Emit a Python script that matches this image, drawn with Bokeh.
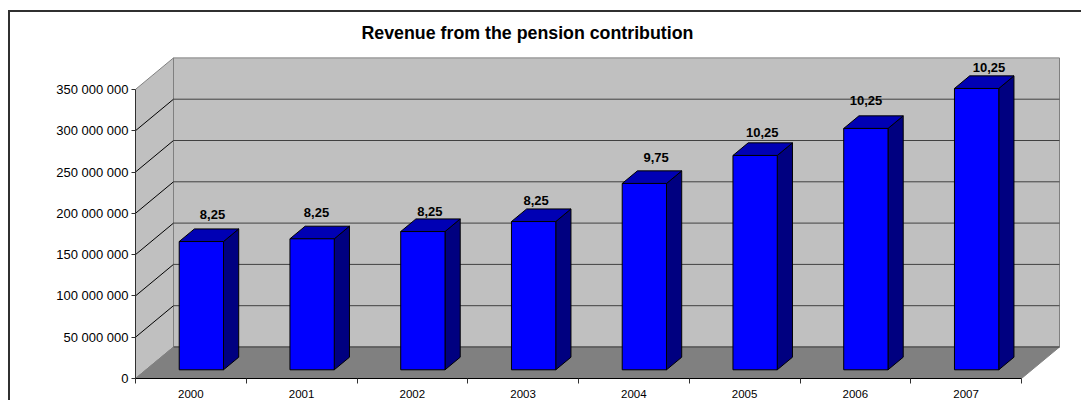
from bokeh.core.properties import value
from bokeh.embed import file_html
from bokeh.models import ColumnDataSource, FixedTicker, InlineStyleSheet, Range1d, Title
from bokeh.plotting import figure
from bokeh.resources import INLINE

# Chart data
years = ["2000", "2001", "2002", "2003", "2004", "2005", "2006", "2007"]
revenue = [155.3e6, 158.6e6, 167.4e6, 179.5e6, 225.6e6, 259.5e6, 292.2e6, 340.6e6]
rates = ["8,25", "8,25", "8,25", "8,25", "9,75", "10,25", "10,25", "10,25"]
y_ticks = [0, 50e6, 100e6, 150e6, 200e6, 250e6, 300e6, 350e6]
y_tick_labels = ["0", "50 000 000", "100 000 000", "150 000 000", "200 000 000",
                 "250 000 000", "300 000 000", "350 000 000"]

# Nudges of the rate labels, in pixels from the centre of each bar's front top edge
label_dx = [11.1, 4.4, 7.0, 2.5, 11.8, 7.1, 0.2, 12.4]
label_dy = [-27.0, -26.0, -19.7, -20.7, -25.7, -22.7, -28.0, -21.0]

# Pixel layout
FRAME_LEFT, FRAME_RIGHT, FRAME_TOP, FRAME_BOTTOM = 135, 1081, 48, 378
PX_PER_CAT = 110.75
PX_PER_UNIT = 41.3 / 50e6
DEPTH_X = 38 / PX_PER_CAT          # shift of the back wall in category units
DEPTH_Y = 31.5 / PX_PER_UNIT       # shift of the back wall in value units
BAR_WIDTH = 0.40
BAR_NEAR, BAR_FAR = 0.276, 0.676   # where the bars start and end, front to back

# Chart area border: only its left and top sides fall inside the window
border_css = InlineStyleSheet(css="""
:host { position: relative; }
:host::after {
    content: ""; position: absolute; left: 8px; top: 10px; right: 0; bottom: 0;
    border-left: 2px solid #303030; border-top: 2px solid #303030;
    pointer-events: none;
}
""")


def project(cat, val, depth):
    """Oblique projection of (category, value, depth) onto the chart plane."""
    return cat + depth * DEPTH_X, val + depth * DEPTH_Y


def poly(*corners):
    pts = [project(*c) for c in corners]
    return [p[0] for p in pts], [p[1] for p in pts]


n = len(years)
top_val = y_ticks[-1]

p = figure(
    width=1081, height=400,
    output_backend="svg", toolbar_location=None,
    x_range=Range1d(0, (FRAME_RIGHT - FRAME_LEFT) / PX_PER_CAT),
    y_range=Range1d(0, (FRAME_BOTTOM - FRAME_TOP) / PX_PER_UNIT),
    min_border_left=FRAME_LEFT, min_border_right=0,
    min_border_top=FRAME_TOP, min_border_bottom=400 - FRAME_BOTTOM,
    outline_line_color=None, background_fill_color="white", border_fill_color="white",
    stylesheets=[border_css],
)
p.grid.visible = False

p.add_layout(Title(text="Revenue from the pension contribution", align="left",
                   offset=226, standoff=11, text_font="Liberation Sans",
                   text_font_size="17.8px", text_font_style="bold", text_color="black"),
             "above")

# Walls and floor
wall_x, wall_y = poly((0, 0, 0), (0, 0, 1), (0, top_val, 1), (0, top_val, 0))
back_x, back_y = poly((0, 0, 1), (n, 0, 1), (n, top_val, 1), (0, top_val, 1))
floor_x, floor_y = poly((0, 0, 0), (n, 0, 0), (n, 0, 1), (0, 0, 1))
p.patch(wall_x, wall_y, fill_color="#C0C0C0", line_color="#808080", line_width=1)
p.patch(back_x, back_y, fill_color="#C0C0C0", line_color="#808080", line_width=1)
p.patch(floor_x, floor_y, fill_color="#808080", line_color="#808080", line_width=1)

# Gridlines run along the side wall and across the back wall
side_xs, side_ys, back_xs, back_ys = [], [], [], []
for tick in y_ticks[1:-1]:
    sx, sy = poly((0, tick, 0), (0, tick, 1))
    bx, by = poly((0, tick, 1), (n, tick, 1))
    side_xs.append(sx); side_ys.append(sy)
    back_xs.append(bx); back_ys.append(by)
p.multi_line(side_xs, side_ys, line_color="black", line_width=1)
p.multi_line(back_xs, back_ys, line_color="#404040", line_width=1)
fx, fy = poly((0, 0, 1), (n, 0, 1))
p.line(fx, fy, line_color="#404040", line_width=1)

# Bars: side face, top face and front face of each box
front, top, side = ([], []), ([], []), ([], [])
for i, val in enumerate(revenue):
    l, r = i + 0.5 - BAR_WIDTH / 2, i + 0.5 + BAR_WIDTH / 2
    for store, corners in (
        (side, ((r, 0, BAR_NEAR), (r, 0, BAR_FAR), (r, val, BAR_FAR), (r, val, BAR_NEAR))),
        (top, ((l, val, BAR_NEAR), (r, val, BAR_NEAR), (r, val, BAR_FAR), (l, val, BAR_FAR))),
        (front, ((l, 0, BAR_NEAR), (r, 0, BAR_NEAR), (r, val, BAR_NEAR), (l, val, BAR_NEAR))),
    ):
        xs, ys = poly(*corners)
        store[0].append(xs)
        store[1].append(ys)

p.patches(side[0], side[1], fill_color="#000080", line_color="black", line_width=1)
p.patches(top[0], top[1], fill_color="#0000B4", line_color="black", line_width=1)
p.patches(front[0], front[1], fill_color="#0000FF", line_color="black", line_width=1)

# Rate labels above the bars
anchors = [project(i + 0.5, val, BAR_NEAR) for i, val in enumerate(revenue)]
labels = ColumnDataSource(dict(
    x=[a[0] for a in anchors], y=[a[1] for a in anchors],
    text=rates, dx=label_dx, dy=label_dy,
))
p.text("x", "y", text="text", x_offset="dx", y_offset="dy", source=labels,
       text_font=value("Liberation Sans"), text_font_style="bold", text_font_size="13px",
       text_color="black", text_align="center", text_baseline="middle")

# Value axis
ya = p.yaxis[0]
ya.ticker = FixedTicker(ticks=y_ticks)
ya.major_label_overrides = {t: s for t, s in zip(y_ticks, y_tick_labels)}
ya.bounds = (0, top_val)
ya.axis_line_color = "#303030"
ya.major_tick_line_color = "#303030"
ya.major_tick_in = 0
ya.major_tick_out = 4
ya.minor_tick_out = 0
ya.minor_tick_in = 0
ya.major_label_standoff = 3
ya.major_label_text_font = "Liberation Sans"
ya.major_label_text_font_size = "13px"
ya.major_label_text_color = "black"

# Category axis: labels sit between the ticks that separate the years
xa = p.xaxis[0]
centres = [i + 0.5 for i in range(n)]
xa.ticker = FixedTicker(ticks=centres, minor_ticks=list(range(n + 1)))
xa.major_label_overrides = {c: y for c, y in zip(centres, years)}
xa.bounds = (0, n)
xa.axis_line_color = "black"
xa.major_tick_line_color = None
xa.major_tick_in = 0
xa.major_tick_out = 0
xa.minor_tick_line_color = "#303030"
xa.minor_tick_in = 0
xa.minor_tick_out = 5
xa.major_label_standoff = 6
xa.major_label_text_font = "Liberation Sans"
xa.major_label_text_font_size = "11.5px"
xa.major_label_text_color = "black"

open("out.html", "w").write(file_html(p, INLINE))
